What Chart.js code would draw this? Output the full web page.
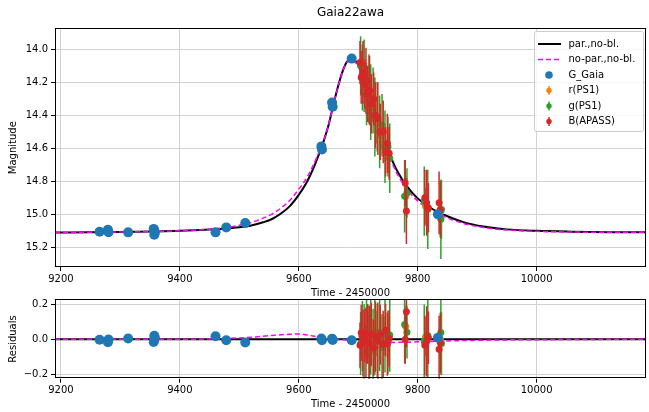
<!DOCTYPE html>
<html>
<head>
<meta charset="utf-8">
<script src="https://cdn.jsdelivr.net/npm/chart.js@4.4.0/dist/chart.umd.min.js"></script>
<style>
    body { margin: 0; background: #fff; }
    #wrap { position: relative; width: 649px; height: 412px; overflow: hidden; background: #fff; }
    canvas { position: absolute; left: 0; }
    #main { top: 0; }
    #resid { top: 290px; }
</style>
</head>
<body>
<div id="wrap">
    <canvas id="main" width="651" height="300"></canvas>
    <canvas id="resid" width="651" height="122"></canvas>
</div>
<script>
// axis ticks
const xTicks = [9200, 9400, 9600, 9800, 10000];
const magTicks = [14.0, 14.2, 14.4, 14.6, 14.8, 15.0, 15.2];
const resTicks = [-0.2, 0.0, 0.2];

// models (time - 2450000, magnitude)
const modelT = [9190, 9250, 9300, 9350, 9400, 9450, 9480, 9500, 9520, 9540, 9555, 9570, 9585, 9600, 9612, 9624, 9634, 9642, 9650, 9658, 9666, 9674, 9681, 9688, 9695, 9703, 9712, 9721, 9732, 9744, 9754, 9766, 9783, 9799, 9821, 9849, 9877, 9911, 9950, 10000, 10060, 10120, 10184];
const parMag = [15.110, 15.109, 15.107, 15.104, 15.100, 15.092, 15.085, 15.078, 15.067, 15.048, 15.028, 14.995, 14.950, 14.882, 14.815, 14.725, 14.635, 14.555, 14.460, 14.340, 14.225, 14.130, 14.075, 14.056, 14.068, 14.115, 14.200, 14.290, 14.420, 14.550, 14.645, 14.740, 14.835, 14.900, 14.960, 15.010, 15.047, 15.074, 15.091, 15.100, 15.105, 15.108, 15.109];
const noParMag = [15.110, 15.109, 15.107, 15.104, 15.100, 15.090, 15.079, 15.066, 15.049, 15.023, 14.998, 14.962, 14.915, 14.848, 14.787, 14.705, 14.623, 14.550, 14.459, 14.340, 14.227, 14.133, 14.079, 14.063, 14.077, 14.127, 14.214, 14.306, 14.438, 14.569, 14.664, 14.758, 14.852, 14.915, 14.973, 15.020, 15.055, 15.080, 15.095, 15.103, 15.107, 15.109, 15.109];
const noParRes = [0, 0, 0, 0, 0, 0.001, 0.004, 0.007, 0.011, 0.017, 0.021, 0.025, 0.028, 0.029, 0.025, 0.018, 0.011, 0.004, 0.001, 0, -0.002, -0.003, -0.004, -0.007, -0.009, -0.012, -0.014, -0.016, -0.018, -0.019, -0.019, -0.018, -0.017, -0.015, -0.013, -0.010, -0.008, -0.006, -0.004, -0.003, -0.002, -0.001, 0];
const parResT = [9190, 10184];
const parRes = [0, 0];

// G_Gaia
const gaiaT = [9265, 9279, 9280, 9313, 9356, 9357, 9358, 9357, 9460, 9478, 9510, 9638, 9639, 9656, 9657, 9689, 9834];
const gaiaMag = [15.105, 15.094, 15.108, 15.109, 15.088, 15.100, 15.112, 15.124, 15.109, 15.079, 15.052, 14.588, 14.607, 14.322, 14.348, 14.056, 15.000];
const gaiaRes = [-0.003, -0.018, -0.002, 0.004, -0.016, -0.004, 0.008, 0.020, 0.017, -0.006, -0.019, 0.004, -0.006, 0.003, -0.005, -0.006, 0.008];

// r(PS1)
const rT = [9706, 9712, 9717, 9724, 9731, 9738, 9744, 9751, 9780, 9813, 9838];
const rMag = [14.16, 14.19, 14.27, 14.34, 14.44, 14.52, 14.57, 14.63, 14.89, 14.95, 14.99];
const rErr = [0.10, 0.09, 0.12, 0.10, 0.13, 0.09, 0.11, 0.12, 0.12, 0.11, 0.10];
const rRes = [0.017, -0.01, 0.02, 0.015, 0.032, 0.035, 0.02, 0.013, 0.072, 0.013, 0];

// g(PS1)
const gT = [9704, 9707, 9710, 9714, 9718, 9721, 9725, 9728, 9732, 9736, 9740, 9745, 9750, 9753, 9778, 9782, 9811, 9817, 9839, 9840];
const gMag = [14.10, 14.17, 14.16, 14.27, 14.24, 14.32, 14.31, 14.41, 14.41, 14.50, 14.46, 14.59, 14.59, 14.66, 14.89, 14.87, 14.92, 14.97, 15.03, 14.97];
const gErr = [0.18, 0.20, 0.22, 0.19, 0.21, 0.23, 0.20, 0.24, 0.21, 0.22, 0.19, 0.22, 0.18, 0.21, 0.22, 0.15, 0.21, 0.24, 0.24, 0.18];
const gRes = [-0.024, 0.017, -0.021, 0.05, -0.02, 0.03, -0.027, 0.037, -0.01, 0.037, -0.046, 0.03, -0.017, 0.024, 0.084, 0.04, -0.012, 0.021, 0.038, -0.024];

// B(APASS)
const bT = [9703, 9705, 9708, 9711, 9713, 9716, 9719, 9722, 9726, 9729, 9733, 9737, 9742, 9746, 9749, 9752, 9779, 9781, 9812, 9815, 9818, 9836, 9838];
const bMag = [14.08, 14.17, 14.14, 14.21, 14.19, 14.27, 14.25, 14.33, 14.30, 14.40, 14.42, 14.50, 14.50, 14.62, 14.57, 14.63, 14.81, 14.98, 14.90, 14.93, 14.96, 14.93, 14.97];
const bErr = [0.13, 0.16, 0.19, 0.15, 0.20, 0.17, 0.21, 0.18, 0.16, 0.20, 0.22, 0.17, 0.19, 0.15, 0.18, 0.16, 0.14, 0.20, 0.17, 0.20, 0.15, 0.19, 0.17];
const bRes = [-0.035, 0.036, -0.022, 0.02, -0.02, 0.03, -0.02, 0.028, -0.049, 0.015, -0.011, 0.026, -0.028, 0.051, -0.028, 0.004, -0.002, 0.156, -0.035, -0.013, 0.008, -0.057, -0.02];

const BLUE = '#1f77b4', ORANGE = '#ff7f0e', GREEN = '#2ca02c', RED = '#d62728', MAGENTA = '#ff00ff';
const GRID = '#d2d2d2';

Chart.defaults.font.family = '"DejaVu Sans", sans-serif';
Chart.defaults.font.size = 10;
Chart.defaults.color = '#000';

function pts(xs, ys) {
    return xs.map((x, i) => ({x: x, y: ys[i]}));
}

// vertical error bars, drawn just under each dataset's markers
const errorBarPlugin = {
    id: 'errorBars',
    beforeDatasetDraw(chart, args) {
        const d = chart.data.datasets[args.index];
        if (!d.errors) return;
        const {ctx, chartArea: a, scales: {x, y}} = chart;
        ctx.save();
        ctx.beginPath();
        ctx.rect(a.left, a.top, a.right - a.left, a.bottom - a.top);
        ctx.clip();
        ctx.strokeStyle = d.backgroundColor;
        ctx.lineWidth = 1.5;
        d.data.forEach((p, i) => {
            const px = x.getPixelForValue(p.x);
            ctx.beginPath();
            ctx.moveTo(px, y.getPixelForValue(p.y - d.errors[i]));
            ctx.lineTo(px, y.getPixelForValue(p.y + d.errors[i]));
            ctx.stroke();
        });
        ctx.restore();
    }
};

// matplotlib style box around the axes
const framePlugin = {
    id: 'frame',
    afterDatasetsDraw(chart) {
        const {ctx, chartArea: a} = chart;
        ctx.save();
        ctx.strokeStyle = '#000';
        ctx.lineWidth = 1;
        ctx.strokeRect(Math.round(a.left) + 0.5, Math.round(a.top) + 0.5, Math.round(a.right - a.left) - 1, Math.round(a.bottom - a.top) - 1);
        ctx.restore();
    }
};

const legendPlugin = {
    id: 'boxLegend',
    afterDraw(chart) {
        const sets = chart.data.datasets.filter(d => d.legendKind);
        if (!sets.length) return;
        const {ctx, chartArea: a} = chart;
        const w = 109, h = 100, rowH = 15.5;
        const x0 = Math.round(a.right - 3 - w), y0 = Math.round(a.top + 3);
        ctx.save();
        ctx.fillStyle = 'rgba(255,255,255,0.8)';
        ctx.strokeStyle = '#cccccc';
        ctx.lineWidth = 1;
        ctx.beginPath();
        ctx.roundRect(x0 + 0.5, y0 + 0.5, w, h, 2);
        ctx.fill();
        ctx.stroke();
        ctx.font = '10px "DejaVu Sans"';
        ctx.textBaseline = 'middle';
        sets.forEach((d, i) => {
            const cy = y0 + 13 + i * rowH;
            const cx = x0 + 15;
            ctx.setLineDash([]);
            if (d.legendKind === 'line') {
                ctx.strokeStyle = d.borderColor;
                ctx.lineWidth = d.borderWidth;
                ctx.setLineDash(d.borderDash || []);
                ctx.beginPath();
                ctx.moveTo(x0 + 4, cy);
                ctx.lineTo(x0 + 27, cy);
                ctx.stroke();
                ctx.setLineDash([]);
            } else if (d.legendKind === 'dot') {
                ctx.fillStyle = d.backgroundColor;
                ctx.beginPath();
                ctx.arc(cx, cy, 3.8, 0, Math.PI * 2);
                ctx.fill();
            } else {
                ctx.strokeStyle = d.backgroundColor;
                ctx.lineWidth = 1.5;
                ctx.beginPath();
                ctx.moveTo(cx, cy - 4.5);
                ctx.lineTo(cx, cy + 4.5);
                ctx.stroke();
                ctx.fillStyle = d.backgroundColor;
                ctx.beginPath();
                ctx.arc(cx, cy, 2.7, 0, Math.PI * 2);
                ctx.fill();
            }
            ctx.fillStyle = '#000';
            ctx.fillText(d.label, x0 + 34.5, cy);
        });
        ctx.restore();
    }
};

function xAxis(height, titlePad) {
    return {
        type: 'linear',
        min: 9190,
        max: 10184,
        afterBuildTicks: s => { s.ticks = xTicks.map(v => ({value: v})); },
        afterFit: s => { s.height = height; },
        grid: {color: GRID, lineWidth: 1, tickLength: 4, tickColor: '#000'},
        border: {display: false},
        ticks: {padding: 2, maxRotation: 0, autoSkip: false, callback: v => String(v)},
        title: {display: true, text: 'Time - 2450000', padding: {top: 0, bottom: titlePad}}
    };
}

function yAxis(title, min, max, ticks, reverse, fmt) {
    return {
        type: 'linear',
        min: min,
        max: max,
        reverse: reverse,
        afterBuildTicks: s => { s.ticks = ticks.map(v => ({value: v})); },
        afterFit: s => { s.width = 55; },
        grid: {color: GRID, lineWidth: 1, tickLength: 4, tickColor: '#000'},
        border: {display: false},
        ticks: {padding: 3, autoSkip: false, callback: fmt},
        title: {display: true, text: title, padding: {top: 7, bottom: 0}}
    };
}

function modelSet(label, xs, ys, color, width, dash, order, kind) {
    return {
        label: label, data: pts(xs, ys), showLine: true, pointRadius: 0,
        borderColor: color, backgroundColor: color, borderWidth: width, borderDash: dash,
        cubicInterpolationMode: 'monotone', order: order, legendKind: kind
    };
}

function dataSet(label, xs, ys, errs, color, radius, order, kind) {
    return {
        label: label, data: pts(xs, ys), errors: errs, pointRadius: radius,
        pointBorderWidth: 0, backgroundColor: color, borderColor: color,
        order: order, legendKind: kind
    };
}

const common = {
    responsive: false,
    animation: false,
    events: [],
    plugins: {legend: {display: false}, tooltip: {enabled: false}}
};

new Chart(document.getElementById('main'), {
    type: 'scatter',
    data: {
        datasets: [
            modelSet('par.,no-bl.', modelT, parMag, '#000', 2, [], 6, 'line'),
            modelSet('no-par.,no-bl.', modelT, noParMag, MAGENTA, 1.5, [5, 3], 5, 'line'),
            dataSet('G_Gaia', gaiaT, gaiaMag, null, BLUE, 5, 0, 'dot'),
            dataSet('r(PS1)', rT, rMag, rErr, ORANGE, 3.5, 3, 'err'),
            dataSet('g(PS1)', gT, gMag, gErr, GREEN, 3.5, 2, 'err'),
            dataSet('B(APASS)', bT, bMag, bErr, RED, 3.5, 1, 'err')
        ]
    },
    options: Object.assign({}, common, {
        layout: {padding: {left: 0, right: 1, top: 0, bottom: 0}},
        plugins: Object.assign({}, common.plugins, {
            title: {display: true, text: 'Gaia22awa', fullSize: false, font: {size: 12, weight: 'normal'}, padding: {top: 6, bottom: 8}}
        }),
        scales: {
            x: xAxis(33, 1),
            y: yAxis('Magnitude', 13.873, 15.319, magTicks, true, v => v.toFixed(1))
        }
    }),
    plugins: [errorBarPlugin, framePlugin, legendPlugin]
});

new Chart(document.getElementById('resid'), {
    type: 'scatter',
    data: {
        datasets: [
            modelSet('par.,no-bl.', parResT, parRes, '#000', 2, [], 6, null),
            modelSet('no-par.,no-bl.', modelT, noParRes, MAGENTA, 1.5, [5, 3], 5, null),
            dataSet('G_Gaia', gaiaT, gaiaRes, null, BLUE, 5, 0, null),
            dataSet('r(PS1)', rT, rRes, rErr, ORANGE, 3.5, 3, null),
            dataSet('g(PS1)', gT, gRes, gErr, GREEN, 3.5, 2, null),
            dataSet('B(APASS)', bT, bRes, bErr, RED, 3.5, 1, null)
        ]
    },
    options: Object.assign({}, common, {
        layout: {padding: {left: 0, right: 1, top: 9.3, bottom: 0}},
        scales: {
            x: xAxis(33.3, 2),
            y: yAxis('Residuals', -0.225, 0.227, resTicks, false, v => (v < 0 ? '\u2212' : '') + Math.abs(v).toFixed(1))
        }
    }),
    plugins: [errorBarPlugin, framePlugin]
});
</script>
</body>
</html>
